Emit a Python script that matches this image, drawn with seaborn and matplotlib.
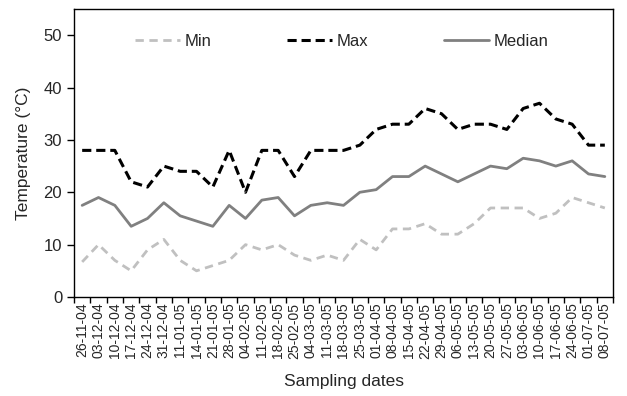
import matplotlib
matplotlib.use("Agg")
import matplotlib.pyplot as plt
import seaborn as sns
import pandas as pd
import numpy as np

dates = ["26-11-04", "03-12-04", "10-12-04", "17-12-04", "24-12-04", "31-12-04",
         "11-01-05", "14-01-05", "21-01-05", "28-01-05", "04-02-05", "11-02-05",
         "18-02-05", "25-02-05", "04-03-05", "11-03-05", "18-03-05", "25-03-05",
         "01-04-05", "08-04-05", "15-04-05", "22-04-05", "29-04-05", "06-05-05",
         "13-05-05", "20-05-05", "27-05-05", "03-06-05", "10-06-05", "17-06-05",
         "24-06-05", "01-07-05", "08-07-05"]
t_min = [6.7, 10, 7, 5, 9, 11, 7, 5, 6, 7, 10, 9, 10, 8, 7, 8, 7, 11, 9, 13,
         13, 14, 12, 12, 14, 17, 17, 17, 15, 16, 19, 18, 17]
t_max = [28, 28, 28, 22, 21, 25, 24, 24, 21, 28, 20, 28, 28, 23, 28, 28, 28, 29,
         32, 33, 33, 36, 35, 32, 33, 33, 32, 36, 37, 34, 33, 29, 29]
t_median = [17.5, 19, 17.5, 13.5, 15, 18, 15.5, 14.5, 13.5, 17.5, 15, 18.5, 19,
            15.5, 17.5, 18, 17.5, 20, 20.5, 23, 23, 25, 23.5, 22, 23.5, 25, 24.5,
            26.5, 26, 25, 26, 23.5, 23]

sns.set_style("ticks")
plt.rcParams['font.family'] = ['Liberation Sans', 'DejaVu Sans']

idx = np.arange(len(dates))
df = pd.DataFrame({"idx": idx, "Min": t_min, "Max": t_max, "Median": t_median})

fig = plt.figure(figsize=(6.27, 3.96), dpi=100)
ax = fig.add_axes([74/627, 1 - 297/396, (613-74)/627, (297-9)/396])

sns.lineplot(data=df, x="idx", y="Min", ax=ax, color="#c0c0c0", lw=2.0,
             label="Min")
sns.lineplot(data=df, x="idx", y="Max", ax=ax, color="black", lw=2.2,
             label="Max")
sns.lineplot(data=df, x="idx", y="Median", ax=ax, color="#808080", lw=2.0,
             label="Median")
ax.lines[0].set_linestyle((0, (3, 2)))
ax.lines[1].set_linestyle((0, (3, 1.6)))

ax.set_xlim(-0.5, len(dates) - 0.5)
ax.set_ylim(0, 55)
ax.set_yticks(np.arange(0, 51, 10))
ax.set_xticks(idx)
ax.set_xticklabels(dates, rotation=90, fontsize=10)
ax.set_xticks(np.arange(-0.5, len(dates), 1), minor=True)
ax.tick_params(axis="x", which="major", length=0, pad=4)
ax.tick_params(axis="x", which="minor", length=4, width=1, color="black")
ax.tick_params(axis="y", length=5, width=1, color="black", labelsize=12)
for s in ax.spines.values():
    s.set_visible(True)
    s.set_color("black")
    s.set_linewidth(1.0)
ax.set_xlabel("Sampling dates", fontsize=12.5, labelpad=11)
ax.set_ylabel("Temperature (°C)", fontsize=12.5, labelpad=9)

leg = ax.legend(ncol=3, loc="center left", frameon=False, fontsize=12,
                handlelength=2.7, handletextpad=0.3, columnspacing=4.5,
                borderpad=0, borderaxespad=0)
leg.set_bbox_to_anchor((135/627, 1 - 41/396), transform=fig.transFigure)

fig.savefig("out.png", dpi=100)
